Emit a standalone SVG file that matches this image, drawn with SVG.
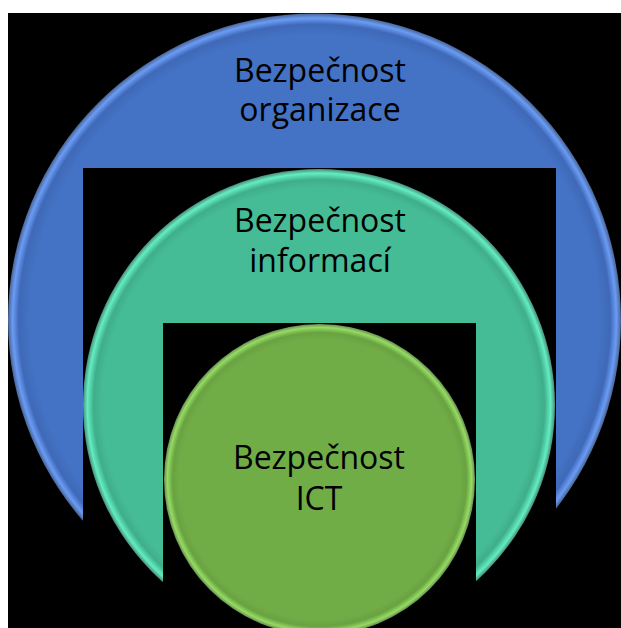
<svg xmlns="http://www.w3.org/2000/svg" width="621" height="628" viewBox="0 0 621 628">
  <style>
    .lbl { font-family: "Open Sans", "Liberation Sans", sans-serif; font-size: 32px; fill: #000; text-anchor: middle; }
  </style>
  <defs>
    <radialGradient id="gBlue" cx="0.5" cy="0.5" r="0.5">
      <stop offset="0" stop-color="#4472C4"/>
      <stop offset="0.93" stop-color="#4472C4"/>
      <stop offset="0.965" stop-color="#3F69B8"/>
      <stop offset="0.985" stop-color="#6A9CF5"/>
      <stop offset="1" stop-color="#4A6494"/>
    </radialGradient>
    <radialGradient id="gTeal" cx="0.5" cy="0.5" r="0.5">
      <stop offset="0" stop-color="#45BC95"/>
      <stop offset="0.92" stop-color="#45BC95"/>
      <stop offset="0.955" stop-color="#3FAE89"/>
      <stop offset="0.982" stop-color="#63EDC2"/>
      <stop offset="1" stop-color="#4A8C78"/>
    </radialGradient>
    <radialGradient id="gGreen" cx="0.5" cy="0.5" r="0.5">
      <stop offset="0" stop-color="#70AD47"/>
      <stop offset="0.9" stop-color="#70AD47"/>
      <stop offset="0.945" stop-color="#69A242"/>
      <stop offset="0.978" stop-color="#95DC62"/>
      <stop offset="1" stop-color="#6A8C55"/>
    </radialGradient>
  </defs>
  <rect x="0" y="0" width="621" height="628" fill="#FFFFFF"/>
  <rect x="8" y="13" width="613" height="615" fill="#000000"/>
  <g id="node-organizace">
    <circle cx="314.5" cy="320" r="306.5" fill="url(#gBlue)"/>
    <text class="lbl" x="320" y="82">Bezpečnost</text>
    <text class="lbl" x="320" y="121">organizace</text>
  </g>
  <rect x="83" y="168" width="473" height="460" fill="#000000"/>
  <g id="node-informaci">
    <circle cx="319" cy="405" r="236" fill="url(#gTeal)"/>
    <text class="lbl" x="320" y="232">Bezpečnost</text>
    <text class="lbl" x="320" y="272">informací</text>
  </g>
  <rect x="163" y="323" width="313" height="305" fill="#000000"/>
  <g id="node-ict">
    <circle cx="319.5" cy="479.5" r="155.5" fill="url(#gGreen)"/>
    <text class="lbl" x="319" y="469">Bezpečnost</text>
    <text class="lbl" x="319" y="510">ICT</text>
  </g>
  <g id="connectors"/>
</svg>
